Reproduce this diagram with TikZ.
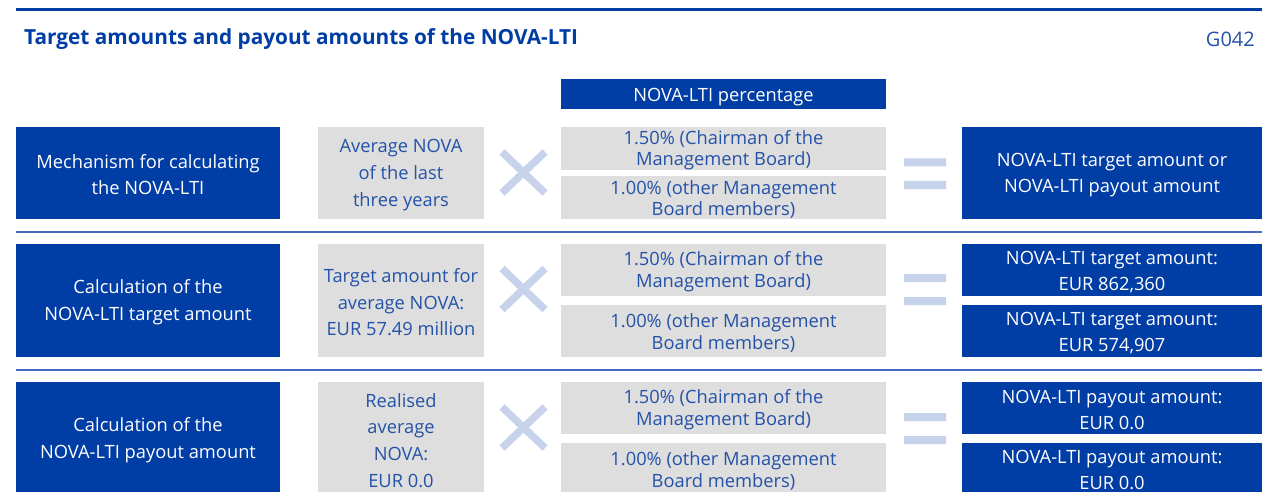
\documentclass[tikz,border=0pt]{standalone}
\usepackage{fontspec}
\setmainfont{Open Sans}
\definecolor{dblue}{HTML}{003DA5}
\definecolor{tblue}{HTML}{2452A8}
\definecolor{lgray}{HTML}{DEDEDE}
\definecolor{lblue}{HTML}{C6D3EA}
\definecolor{sepblue}{HTML}{4468BF}
\newcommand{\fstr}{\rule{0pt}{17.5pt}}
\tikzset{
  bluebox/.style={fill=dblue, text=white, draw=none, inner sep=0pt, outer sep=0pt, anchor=north west, align=center, font=\fontsize{18.3}{26.6}\selectfont},
  graybox/.style={fill=lgray, text=tblue, draw=none, inner sep=0pt, outer sep=0pt, anchor=north west, align=center, font=\fontsize{18.3}{21.5}\selectfont},
  grayboxL/.style={graybox, font=\fontsize{18.3}{26.6}\selectfont},
  sym/.style={lblue, line width=7.5pt},
  sepline/.style={sepblue, line width=2pt},
}
\begin{document}
\begin{tikzpicture}[x=1pt, y=-1pt]
\useasboundingbox (0,0) rectangle (1264,492);
% header
\draw[dblue, line width=2.5pt] (16,9.5) -- (1262,9.5);
\node[anchor=west, text=dblue, font=\fontsize{20.8}{24}\selectfont\bfseries, inner sep=0pt] (title) at (24,39.5) {Target amounts and payout amounts of the NOVA-LTI};
\node[anchor=east, text=tblue, font=\fontsize{20}{20}\selectfont, inner sep=0pt] (gid) at (1255,39.5) {G042};
\node[bluebox, minimum width=325pt, minimum height=30pt, font=\fontsize{18.3}{20}\selectfont] (pcthead) at (561,79) {\rule{0pt}{19.5pt}NOVA-LTI percentage};

% row 1
\node[bluebox, minimum width=264pt, minimum height=92pt] (r1a) at (16,127) {\fstr Mechanism for calculating\\the NOVA-LTI};
\node[grayboxL, minimum width=166pt, minimum height=92pt] (r1b) at (318,127) {\fstr Average NOVA\\of the last\\three years};
\node[graybox, minimum width=325pt, minimum height=41pt] (r1c) at (561,127) {\fstr 1.50\% (Chairman of the\\Management Board)};
\node[graybox, minimum width=325pt, minimum height=43pt] (r1d) at (561,176) {\fstr 1.00\% (other Management\\Board members)};
\node[bluebox, minimum width=300pt, minimum height=92pt] (r1e) at (962,127) {\fstr NOVA-LTI target amount or\\NOVA-LTI payout amount};
\draw[sym] (502,152) -- (545,193) (502,193) -- (545,152);
\fill[lblue] (904,158.5) rectangle (946,166.5) (904,181) rectangle (946,189);

\draw[sepline] (16,232) -- (1262,232);

% row 2
\node[bluebox, minimum width=264pt, minimum height=113pt] (r2a) at (16,244) {\fstr Calculation of the\\NOVA-LTI target amount};
\node[grayboxL, minimum width=166pt, minimum height=113pt] (r2b) at (318,244) {\fstr Target amount for\\average NOVA:\\EUR 57.49 million};
\node[graybox, minimum width=325pt, minimum height=52pt] (r2c) at (561,244) {\fstr 1.50\% (Chairman of the\\Management Board)};
\node[graybox, minimum width=325pt, minimum height=52pt] (r2d) at (561,305) {\fstr 1.00\% (other Management\\Board members)};
\node[bluebox, minimum width=300pt, minimum height=52pt] (r2e) at (962,244) {\fstr NOVA-LTI target amount:\\EUR 862,360};
\node[bluebox, minimum width=300pt, minimum height=52pt] (r2f) at (962,305) {\fstr NOVA-LTI target amount:\\EUR 574,907};
\draw[sym] (502,268.5) -- (545,309.5) (502,309.5) -- (545,268.5);
\fill[lblue] (904,274) rectangle (946,282) (904,297) rectangle (946,305);

\draw[sepline] (16,369.5) -- (1262,369.5);

% row 3
\node[bluebox, minimum width=264pt, minimum height=113pt] (r3a) at (16,382) {\fstr Calculation of the\\NOVA-LTI payout amount};
\node[grayboxL, minimum width=166pt, minimum height=113pt] (r3b) at (318,382) {\fstr Realised\\average\\NOVA:\\EUR 0.0};
\node[graybox, minimum width=325pt, minimum height=52pt] (r3c) at (561,382) {\fstr 1.50\% (Chairman of the\\Management Board)};
\node[graybox, minimum width=325pt, minimum height=52pt] (r3d) at (561,443) {\fstr 1.00\% (other Management\\Board members)};
\node[bluebox, minimum width=300pt, minimum height=52pt] (r3e) at (962,382) {\fstr NOVA-LTI payout amount:\\EUR 0.0};
\node[bluebox, minimum width=300pt, minimum height=50pt] (r3f) at (962,443) {\fstr NOVA-LTI payout amount:\\EUR 0.0};
\draw[sym] (502,407) -- (545,448) (502,448) -- (545,407);
\fill[lblue] (904,413) rectangle (946,421) (904,436) rectangle (946,444);
\end{tikzpicture}
\end{document}
